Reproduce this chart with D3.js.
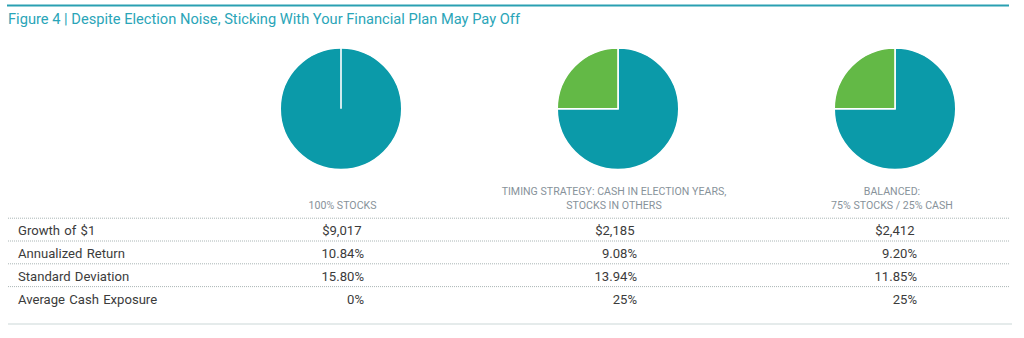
<!DOCTYPE html>
<html><head><meta charset="utf-8">
<script src="https://cdn.jsdelivr.net/npm/d3@7"></script>
<style>body{margin:0;background:#fff}svg{display:block}text{font-family:Roboto,"Noto Sans",sans-serif}</style>
</head><body>
<svg id="c" width="1024" height="338"></svg>
<script>
const title = "Figure 4 | Despite Election Noise, Sticking With Your Financial Plan May Pay Off";
const strategies = ["100% STOCKS", "TIMING STRATEGY: CASH IN ELECTION YEARS,\nSTOCKS IN OTHERS", "BALANCED:\n75% STOCKS / 25% CASH"];
const stocksShare = [100, 75, 75];
const cashShare = [0, 25, 25];
const rowLabels = ["Growth of $1", "Annualized Return", "Standard Deviation", "Average Cash Exposure"];
const growth = ["$9,017", "$2,185", "$2,412"];
const annReturn = ["10.84%", "9.08%", "9.20%"];
const stdDev = ["15.80%", "13.94%", "11.85%"];
const cashExposure = ["0%", "25%", "25%"];

const rows = [growth, annReturn, stdDev, cashExposure];
const teal = "#0b9aa9", green = "#63b946";
const svg = d3.select("#c");

// top rule + title
svg.append("line").attr("x1",7).attr("x2",1009).attr("y1",5.5).attr("y2",5.5)
  .attr("stroke","#2aa0b2").attr("stroke-width",2.2);
svg.append("text").attr("x",8).attr("y",23.5).text(title)
  .attr("fill","#2aa5b8").attr("font-size",15.5).attr("textLength",512).attr("lengthAdjust","spacingAndGlyphs");

const colScale = d3.scalePoint().domain(d3.range(3)).range([341,895]);
const pie = d3.pie().sort(null).value(d=>d);
const arc = d3.arc().innerRadius(0).outerRadius(60.8);

strategies.forEach((s,i)=>{
  const g = svg.append("g").attr("transform",`translate(${colScale(i)},108.8)`);
  g.selectAll("path").data(pie([stocksShare[i], cashShare[i]])).join("path")
    .attr("d",arc).attr("fill",(d,j)=>j===0?teal:green)
    .attr("stroke","#fff").attr("stroke-width",1.6).attr("stroke-linejoin","miter");
  const lines = s.split("\n");
  const cx = colScale(i) + [1.5,-4,-3][i];
  lines.forEach((l,k)=>{
    svg.append("text").attr("x",cx).attr("y",209 - (lines.length-1-k)*14.2)
      .attr("text-anchor","middle").attr("fill","#87929a").attr("font-size",10.6)
      .attr("letter-spacing",0.02).text(l);
  });
});

// table
const rowY = d3.scaleLinear().domain([0,1]).range([230.7,253.5]);
const valX = [364,637,917];
[0,1,2,3].forEach(r=>{
  svg.append("line").attr("x1",8).attr("x2",1010)
    .attr("y1",rowY(r)-12.5).attr("y2",rowY(r)-12.5)
    .attr("stroke","#aab5b5").attr("stroke-width",1).attr("stroke-dasharray","1,1");
  svg.append("text").attr("x",18).attr("y",rowY(r)+4.7).text(rowLabels[r])
    .attr("fill","#3b3b3b").attr("font-size",13.1).attr("word-spacing",1);
  rows[r].forEach((v,i)=>{
    svg.append("text").attr("x",valX[i] - (v[0]==="$"?2.5:0)).attr("y",rowY(r)+4.7)
      .attr("text-anchor","end").attr("fill","#3b3b3b").attr("font-size",13.1).text(v);
  });
});
svg.append("line").attr("x1",8).attr("x2",1012).attr("y1",324).attr("y2",324)
  .attr("stroke","#dde4e4").attr("stroke-width",1.5);
</script>
</body></html>
